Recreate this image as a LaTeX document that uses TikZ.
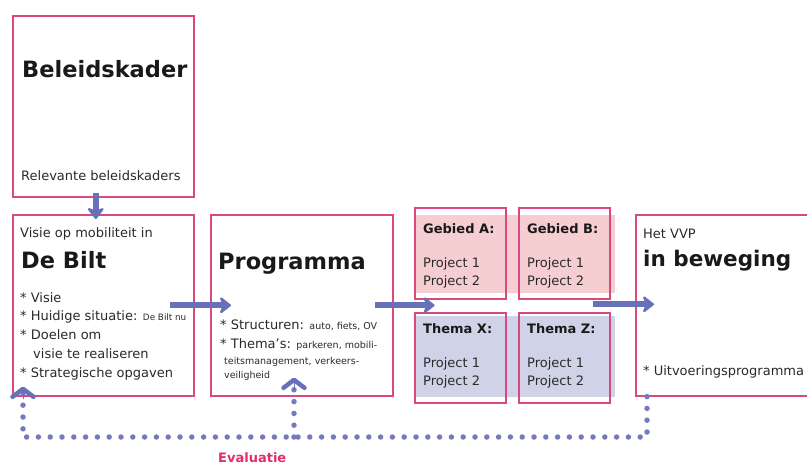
\documentclass[tikz,border=0pt]{standalone}
\usepackage{fontspec}
\setmainfont{DejaVu Sans}
\usetikzlibrary{arrows.meta,calc}
\definecolor{boxpink}{HTML}{D9497F}
\definecolor{bandpink}{HTML}{F6CDD0}
\definecolor{bandblue}{HTML}{D0D3E8}
\definecolor{arrowblue}{HTML}{6870B8}
\definecolor{dotblue}{HTML}{737ABE}
\definecolor{evalred}{HTML}{E0306A}
\definecolor{inktext}{HTML}{2A2A2A}
\newcommand{\bodyfont}{\fontsize{13}{15}\selectfont}
\newcommand{\headfont}{\fontsize{22.5}{26}\selectfont\bfseries}
\newcommand{\smallfont}{\fontsize{9.5}{11}\selectfont}
\newcommand{\tinyfont}{\fontsize{8.8}{10}\selectfont}
\begin{document}
\begin{tikzpicture}[x=1pt,y=-1pt,
  frame/.style={draw=boxpink, line width=1.6pt, inner sep=0pt, anchor=north west},
  band/.style={fill=#1, draw=none, inner sep=0pt, anchor=north west},
  txt/.style={anchor=base west, inner sep=0pt, text=inktext, font=\bodyfont},
  head/.style={anchor=base west, inner sep=0pt, text=black!90, font=\headfont},
  sub/.style={anchor=base west, inner sep=0pt, text=black!90, font=\fontsize{13}{15}\selectfont\bfseries},
  bigarrow/.style={draw=arrowblue, line width=6pt, -{Stealth[length=13pt,width=20pt,inset=4pt,round]}},
  dotline/.style={draw=dotblue, line width=5.5pt, line cap=round, dash pattern=on 0pt off 11.8pt},
  chevron/.style={-{Straight Barb[length=8pt,width=21pt,line width=4.5pt,round]}}
]
\useasboundingbox (0,0) rectangle (807,464);
\clip (0,0) rectangle (807,464);
\fill[white] (0,0) rectangle (807,464);

% bands
\node[band=bandpink, minimum width=201pt, minimum height=78pt] (bandA) at (414,215) {};
\node[band=bandblue, minimum width=201pt, minimum height=81pt] (bandB) at (414,316) {};

% boxes
\node[frame, minimum width=181pt, minimum height=181pt] (bel) at (12,15) {};
\node[frame, minimum width=181pt, minimum height=181pt] (bilt) at (12,214) {};
\node[frame, minimum width=182pt, minimum height=181pt] (prog) at (210,214) {};
\node[frame, minimum width=91pt, minimum height=91pt] (gA) at (414,207) {};
\node[frame, minimum width=91pt, minimum height=91pt] (gB) at (518,207) {};
\node[frame, minimum width=91pt, minimum height=90pt] (tX) at (414,312) {};
\node[frame, minimum width=91pt, minimum height=90pt] (tZ) at (518,312) {};
\node[frame, minimum width=190pt, minimum height=181pt] (vvp) at (635,214) {};

% Beleidskader texts
\node[head] (belT) at (22,77) {Beleidskader};
\node[txt] (belS) at (21,180) {Relevante beleidskaders};

% De Bilt texts
\node[txt] (biltA) at (20,237) {Visie op mobiliteit in};
\node[head] (biltT) at (21,268) {De Bilt};
\node[txt] (biltB) at (20,302) {* Visie};
\node[txt] (biltC) at (20,320) {* Huidige situatie: {\tinyfont De Bilt nu}};
\node[txt] (biltD) at (20,339) {* Doelen om};
\node[txt] (biltE) at (33,358) {visie te realiseren};
\node[txt] (biltF) at (20,377) {* Strategische opgaven};

% Programma texts
\node[head] (progT) at (218,269) {Programma};
\node[txt] (progA) at (220,329) {* Structuren: {\smallfont auto, fiets, OV}};
\node[txt] (progB) at (220,348) {* Thema’s: {\smallfont parkeren, mobili-}};
\node[txt, font=\smallfont] (progC) at (224,364) {teitsmanagement, verkeers-};
\node[txt, font=\smallfont] (progD) at (224,378) {veiligheid};

% Gebied / Thema texts
\node[sub] (gAT) at (423,233) {Gebied A:};
\node[txt] (gA1) at (423,267) {Project 1};
\node[txt] (gA2) at (423,285) {Project 2};
\node[sub] (gBT) at (527,233) {Gebied B:};
\node[txt] (gB1) at (527,267) {Project 1};
\node[txt] (gB2) at (527,285) {Project 2};
\node[sub] (tXT) at (423,333) {Thema X:};
\node[txt] (tX1) at (423,367) {Project 1};
\node[txt] (tX2) at (423,385) {Project 2};
\node[sub] (tZT) at (527,333) {Thema Z:};
\node[txt] (tZ1) at (527,367) {Project 1};
\node[txt] (tZ2) at (527,385) {Project 2};

% VVP texts
\node[txt] (vvpA) at (643,238) {Het VVP};
\node[head, font=\fontsize{21.5}{25}\selectfont\bfseries] (vvpT) at (643,266) {in beweging};
\node[txt] (vvpB) at (643,375) {* Uitvoeringsprogramma};

% main arrows
\draw[bigarrow] ($(bel.south)+(-7.5,-5)$) -- ($(bilt.north)+(-7.5,5)$);
\draw[bigarrow] ($(bilt.east)+(-25,0)$) -- ($(prog.west)+(21,0)$);
\draw[bigarrow] ($(prog.east)+(-19,0)$) -- ($(prog.east)+(41,0)$);
\draw[bigarrow] ($(vvp.west)+(-42,-1)$) -- ($(vvp.west)+(19,-1)$);

% evaluation loop
\coordinate (eR) at (647,437);
\coordinate (eL) at (23,437);
\coordinate (eM) at (294,437);
\draw[dotline] (vvp.south -| eR) -- (eR) -- (eL) -- ($(bilt.south -| eL)+(0,-9)$);
\draw[dotline] (eM) -- ($(prog.south -| eM)+(0,-18)$);
\draw[arrowblue, chevron] ($(bilt.south -| eL)+(0,2)$) -- ($(bilt.south -| eL)+(0,-10)$);
\draw[arrowblue, chevron] ($(prog.south -| eM)+(0,-7)$) -- ($(prog.south -| eM)+(0,-19)$);

\node[anchor=base west, inner sep=0pt, text=evalred, font=\fontsize{13}{15}\selectfont\bfseries] (evalT) at (218,462) {Evaluatie};
\end{tikzpicture}
\end{document}
